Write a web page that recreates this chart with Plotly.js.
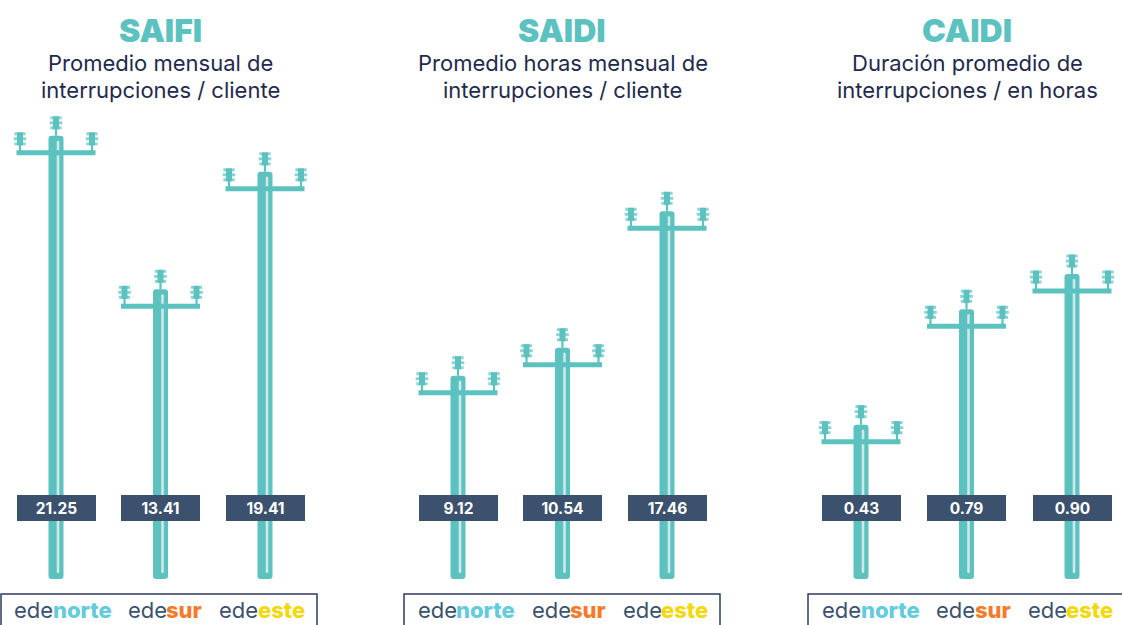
<!DOCTYPE html>
<html><head><meta charset="utf-8">
<script src="https://cdn.plot.ly/plotly-3.0.1.min.js"></script>
<style>html,body{margin:0;padding:0;background:#fff;overflow:hidden}#c{width:1122px;height:625px}</style>
</head><body><div id="c"></div>
<script>
var companies = ['edenorte','edesur','edeeste'];
var brandPrefix = 'ede';
var brandSuffix = ['norte','sur','este'];
var brandColors = ['#63cbdc','#f57b2c','#f2d90f'];
var saifi = [21.25,13.41,19.41];
var saidi = [9.12,10.54,17.46];
var caidi = [0.43,0.79,0.90];
var labelsSaifi = ['21.25','13.41','19.41'];
var labelsSaidi = ['9.12','10.54','17.46'];
var labelsCaidi = ['0.43','0.79','0.90'];
var titles = ['SAIFI','SAIDI','CAIDI'];
var subtitles = [['Promedio mensual de','interrupciones / cliente'],['Promedio horas mensual de','interrupciones / cliente'],['Duración promedio de','interrupciones / en horas']];

var W=1122,H=625, TEAL='#5cc2bf', STRIPE='#cfe9e9', NAVY='#3b516d', INK='#1f2a4d';
var FONT='Inter, "Noto Sans", sans-serif';
var panels=[
 {vals:saifi,labs:labelsSaifi,c0:56,step:104.5,left:0,right:330,zero:551.9,slope:19.58,titleX:160.5,subX:160.5,box:[1,317],brand:[53,166.5,258]},
 {vals:saidi,labs:labelsSaidi,c0:458,step:104.5,left:380,right:720,zero:555.6,slope:19.72,titleX:562,subX:562.5,box:[404,720],brand:[456.5,570.5,661.5]},
 {vals:caidi,labs:labelsCaidi,c0:861,step:105.5,left:780,right:1122,zero:562.5,slope:320.5,titleX:967,subX:967.5,box:[808,1124],brand:[861,975,1066.5]}
];
var data=[],shapes=[],ann=[],layout={
 width:W,height:H,margin:{l:0,r:0,t:0,b:0,pad:0},paper_bgcolor:'#fff',plot_bgcolor:'rgba(0,0,0,0)',
 showlegend:false,barmode:'overlay',barcornerradius:3,hovermode:false,font:{family:FONT}
};
panels.forEach(function(p,k){
  var sx=k?String(k+1):'', xa='x'+sx, ya='y'+sx;
  var px=function(d){return d/p.step}, py=function(d){return d/p.slope};
  var idx=p.vals.map(function(_,i){return i});
  var base=(p.zero-579)/p.slope;
  layout['xaxis'+sx]={domain:[p.left/W,p.right/W],range:[(p.left-p.c0)/p.step,(p.right-p.c0)/p.step],visible:false,fixedrange:true,anchor:ya};
  layout['yaxis'+sx]={domain:[0,1],range:[(p.zero-H)/p.slope,p.zero/p.slope],visible:false,fixedrange:true,anchor:xa};
  data.push({type:'bar',xaxis:xa,yaxis:ya,x:idx,y:p.vals.map(function(v){return v-base}),base:base,width:px(15),marker:{color:TEAL,line:{width:0}},hoverinfo:'skip'});
  data.push({type:'bar',xaxis:xa,yaxis:ya,x:idx.map(function(i){return i+px(2)}),y:p.vals.map(function(v){return v-base-py(5+6)}),base:base+py(6),width:px(2.6),marker:{color:STRIPE,line:{width:0}},hoverinfo:'skip'});
  data.push({type:'scatter',mode:'markers',xaxis:xa,yaxis:ya,x:idx,y:p.vals.map(function(v){return v-py(17)}),marker:{size:1,color:TEAL},
    error_x:{type:'constant',value:px(39.5),thickness:5,width:0,color:TEAL},hoverinfo:'skip'});
  var sx1=[],sy1=[],bx=[],by=[],dx=[],dy=[],ds=[];
  idx.forEach(function(i){
    var v=p.vals[i];
    [[0,-18,0],[-36,-2,17],[36,-2,17]].forEach(function(s){
      var x=i+px(s[0]);
      sx1.push(x,x,null);sy1.push(v-py(s[1]+10),v-py(s[2]),null);
      bx.push(x,x,null);by.push(v-py(s[1]-1.5),v-py(s[1]+11.5),null);
      [0,5,10].forEach(function(o){dx.push(x);dy.push(v-py(s[1]+o));ds.push(o==5?9:8)});
    });
  });
  data.push({type:'scatter',mode:'lines',connectgaps:false,xaxis:xa,yaxis:ya,x:sx1,y:sy1,line:{color:TEAL,width:2.2},hoverinfo:'skip'});
  data.push({type:'scatter',mode:'lines',connectgaps:false,xaxis:xa,yaxis:ya,x:bx,y:by,line:{color:TEAL,width:6},hoverinfo:'skip'});
  data.push({type:'scatter',mode:'markers',xaxis:xa,yaxis:ya,x:dx,y:dy,marker:{symbol:'line-ew',size:ds,color:TEAL,line:{color:TEAL,width:3}},hoverinfo:'skip'});
  idx.forEach(function(i){
    ann.push({xref:xa,yref:'paper',x:i,y:1-508/H,xanchor:'center',yanchor:'middle',width:79,height:26,borderpad:0,borderwidth:0,bgcolor:NAVY,
      text:p.labs[i],showarrow:false,align:'center',valign:'middle',font:{family:FONT,size:15.5,weight:700,color:'#fff'}});
    ann.push({xref:'paper',yref:'paper',x:p.brand[i]/W,y:1-610/H,xanchor:'right',yanchor:'middle',xshift:2.2,showarrow:false,
      text:brandPrefix,font:{family:FONT,size:22,weight:400,color:NAVY}});
    ann.push({xref:'paper',yref:'paper',x:p.brand[i]/W,y:1-610/H,xanchor:'left',yanchor:'middle',xshift:-2.2,showarrow:false,
      text:brandSuffix[i],font:{family:FONT,size:22,weight:800,color:brandColors[i]}});
  });
  ann.push({xref:'paper',yref:'paper',x:p.titleX/W,y:1-31/H,xanchor:'center',yanchor:'middle',showarrow:false,text:titles[k],font:{family:FONT,size:32,weight:900,color:TEAL}});
  subtitles[k].forEach(function(line,j){
    ann.push({xref:'paper',yref:'paper',x:p.subX/W,y:1-(63+27*j)/H,xanchor:'center',yanchor:'middle',showarrow:false,text:line,font:{family:FONT,size:22,color:INK}});
  });
  shapes.push({type:'rect',xref:'paper',yref:'paper',x0:p.box[0]/W,x1:p.box[1]/W,y0:-0.02,y1:1-594/H,line:{color:'#2d3a63',width:1.5},fillcolor:'rgba(0,0,0,0)'});
});
layout.annotations=ann;layout.shapes=shapes;
Plotly.newPlot('c',data,layout,{displayModeBar:false,staticPlot:true});
</script></body></html>
